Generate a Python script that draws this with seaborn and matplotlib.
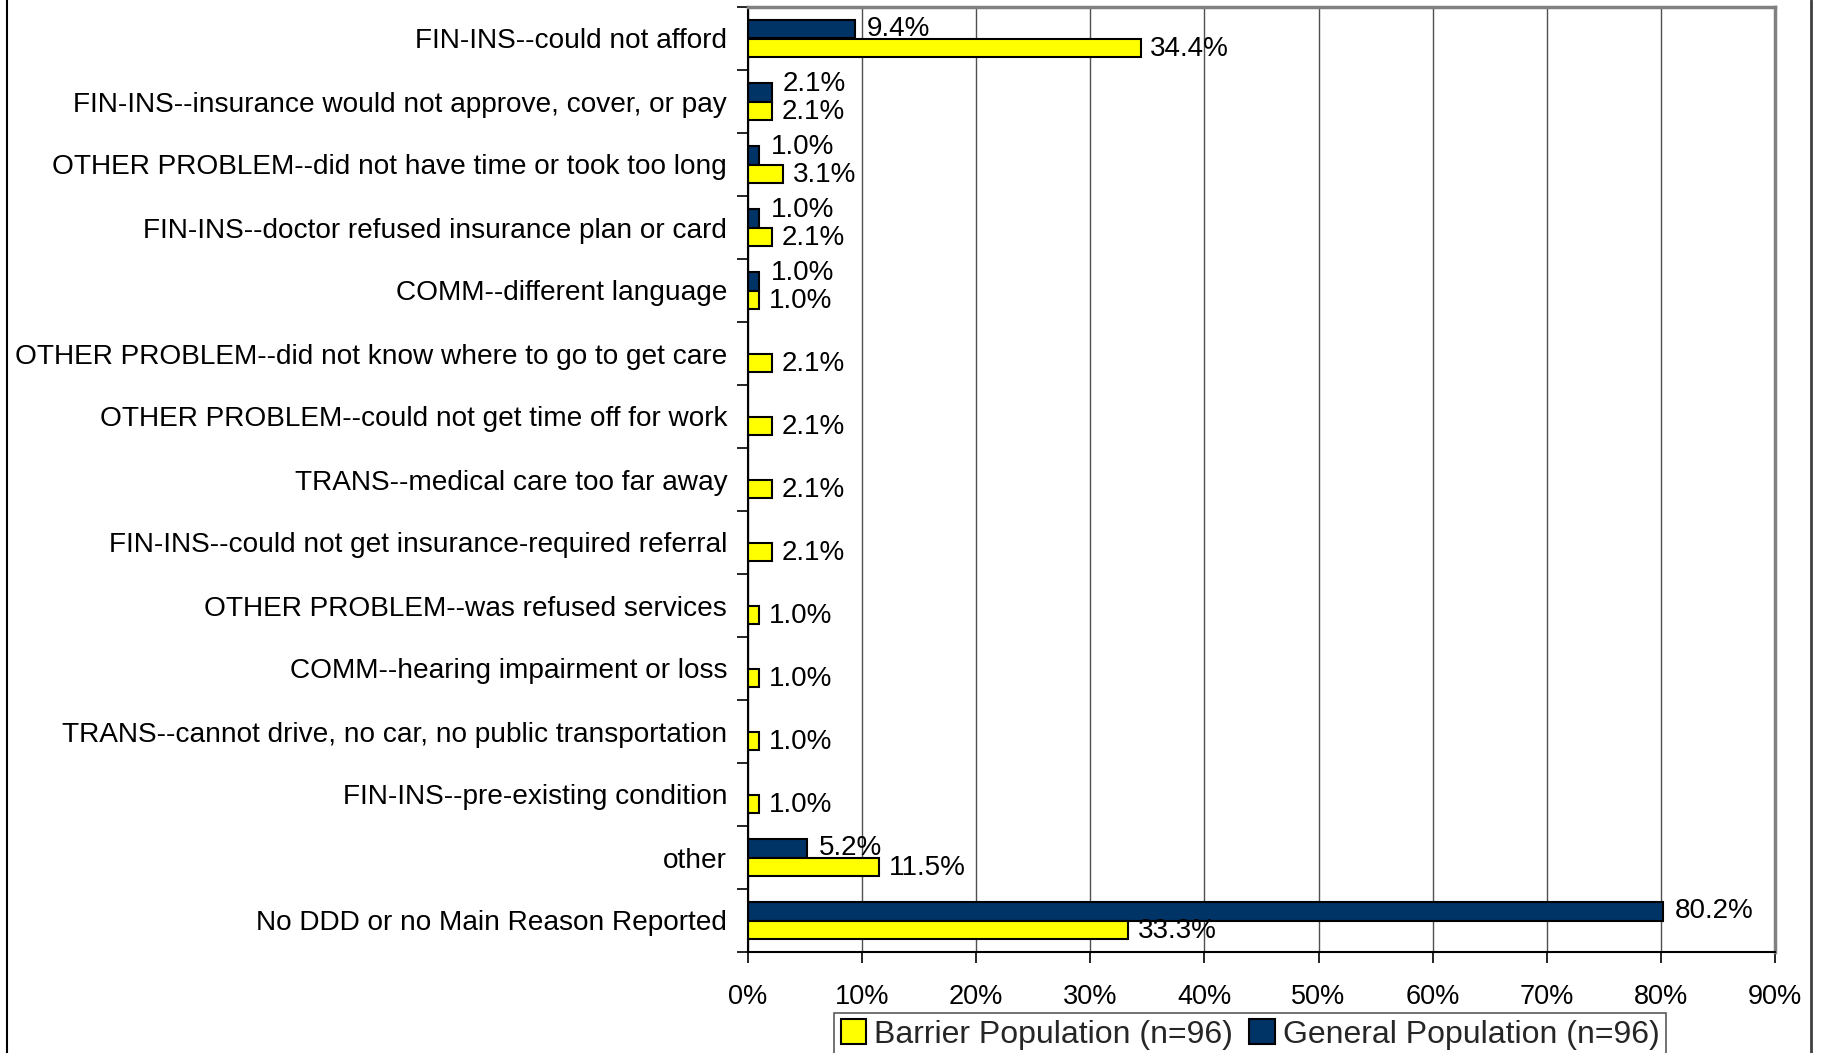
import matplotlib
matplotlib.use("Agg")
import matplotlib.pyplot as plt
from matplotlib.lines import Line2D
from matplotlib.patches import Patch
from matplotlib.ticker import FixedLocator, FuncFormatter
import seaborn as sns
import pandas as pd
import numpy as np

categories = [
    "FIN-INS--could not afford",
    "FIN-INS--insurance would not approve, cover, or pay",
    "OTHER PROBLEM--did not have time or took too long",
    "FIN-INS--doctor refused insurance plan or card",
    "COMM--different language",
    "OTHER PROBLEM--did not know where to go to get care",
    "OTHER PROBLEM--could not get time off for work",
    "TRANS--medical care too far away",
    "FIN-INS--could not get insurance-required referral",
    "OTHER PROBLEM--was refused services",
    "COMM--hearing impairment or loss",
    "TRANS--cannot drive, no car, no public transportation",
    "FIN-INS--pre-existing condition",
    "other",
    "No DDD or no Main Reason Reported",
]
general = [9.4, 2.1, 1.0, 1.0, 1.0, None, None, None, None, None, None, None, None, 5.2, 80.2]
barrier = [34.4, 2.1, 3.1, 2.1, 1.0, 2.1, 2.1, 2.1, 2.1, 1.0, 1.0, 1.0, 1.0, 11.5, 33.3]
series_names = ["General Population (n=96)", "Barrier Population (n=96)"]
legend_order = ["Barrier Population (n=96)", "General Population (n=96)"]
colors = {"General Population (n=96)": "#003366", "Barrier Population (n=96)": "#FFFF00"}
xticks = [0, 10, 20, 30, 40, 50, 60, 70, 80, 90]

rows = []
for cat, g, b in zip(categories, general, barrier):
    if g is not None:
        rows.append({"cat": cat, "series": series_names[0], "val": g})
    if b is not None:
        rows.append({"cat": cat, "series": series_names[1], "val": b})
df = pd.DataFrame(rows)

sns.set_theme(style="white")
plt.rcParams["font.family"] = ["Liberation Sans", "DejaVu Sans"]

fig = plt.figure(figsize=(18.24, 10.53), dpi=100)
ax = fig.add_axes([748 / 1824, 1 - 952 / 1053, (1775 - 748) / 1824, (952 - 7) / 1053])

sns.barplot(data=df, y="cat", x="val", hue="series", order=categories,
            hue_order=series_names, palette=colors, orient="h", width=0.6,
            edgecolor="black", linewidth=1.5, errorbar=None, legend=False,
            saturation=1, ax=ax)

ax.set_xlim(0, 90)
ax.set_ylim(len(categories) - 0.5, -0.5)
ax.xaxis.set_major_locator(FixedLocator(xticks))
ax.xaxis.set_major_formatter(FuncFormatter(lambda v, p: f"{int(round(v))}%"))
ax.set_xlabel("")
ax.set_ylabel("")

ax.grid(axis="x", color="#505050", linewidth=1.0)
ax.grid(axis="y", visible=False)
ax.set_axisbelow(True)

ax.tick_params(axis="y", which="major", length=0, pad=15, labelsize=20.2, colors="black")
ax.yaxis.set_minor_locator(FixedLocator(np.arange(-0.5, len(categories), 1.0)))
ax.tick_params(axis="y", which="minor", left=True, length=8, width=1.2, color="black", direction="out")
ax.tick_params(axis="x", which="major", bottom=True, length=8, width=1.2, color="black",
               direction="out", pad=15, labelsize=19.5, labelcolor="black")

for side in ["left", "bottom"]:
    ax.spines[side].set_color("black")
    ax.spines[side].set_linewidth(1.5)
for side in ["top", "right"]:
    ax.spines[side].set_color("#808080")
    ax.spines[side].set_linewidth(2.5)

# value labels (general labels lifted where they would collide with barrier labels)
bar_map = dict(zip(categories, barrier))
for ci, cont in enumerate(ax.containers):
    for patch in cont.patches:
        w = patch.get_width()
        if not np.isfinite(w):
            continue
        yc = patch.get_y() + patch.get_height() / 2
        cat = categories[int(round(yc))]
        if ci == 0:
            b = bar_map[cat]
            dy = 6 if (b is not None and abs(b - w) < 5) else 0
            dx = 8
        else:
            dy = -1
            dx = 7
        ax.annotate(f"{w:.1f}%", xy=(w, yc), xytext=(dx, dy), textcoords="offset points",
                    ha="left", va="center", fontsize=20, color="black")

handles = [Patch(facecolor=colors[n], edgecolor="black", linewidth=1.5, label=n) for n in legend_order]
leg = fig.legend(handles=handles, loc="upper center", bbox_to_anchor=(1250 / 1824, 1 - 1013 / 1053),
                 ncol=2, fontsize=23, frameon=True, fancybox=False, handlelength=0.8,
                 handleheight=0.8, handletextpad=0.25, columnspacing=0.5, borderpad=0.2,
                 borderaxespad=0)
leg.get_frame().set_edgecolor("#303030")
leg.get_frame().set_linewidth(1.2)

fig.add_artist(Line2D([7 / 1824, 7 / 1824], [0, 1], transform=fig.transFigure, color="black", linewidth=1.5))
fig.add_artist(Line2D([1811 / 1824, 1811 / 1824], [0, 1], transform=fig.transFigure, color="#404040", linewidth=2))

fig.savefig("out.png", dpi=100, facecolor="white")
